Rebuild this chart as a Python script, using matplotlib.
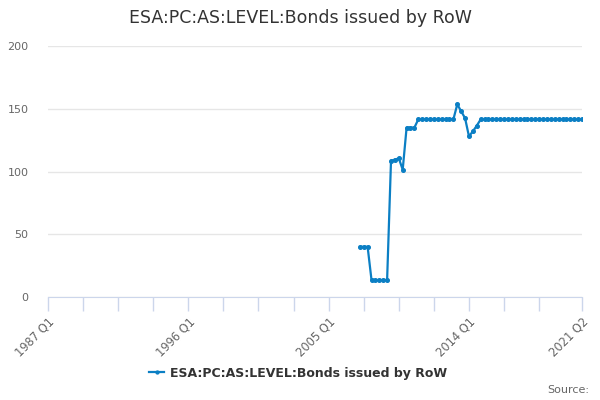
import matplotlib
matplotlib.use("Agg")
import matplotlib.pyplot as plt
import numpy as np

# Category axis: quarters 1987 Q1 .. 2021 Q2
years = list(range(1987, 2022))
quarters = [f"{y} Q{q}" for y in years for q in range(1, 5)]
quarters = quarters[:quarters.index("2021 Q2") + 1]

series_name = "ESA:PC:AS:LEVEL:Bonds issued by RoW"
first_quarter = "2007 Q1"
values = [40, 40, 40,
          13.5, 13.5, 13.5, 13.5, 13.5,
          108.5, 109.5, 110.5, 101.5,
          135, 135, 135,
          141.5, 141.5, 141.5, 141.5, 141.5, 141.5, 141.5, 141.5, 141.5, 141.5,
          153.5, 148, 142.5, 128, 132, 136.5,
          141.5, 141.5, 141.5, 141.5, 141.5, 141.5, 141.5, 141.5, 141.5,
          141.5, 141.5, 141.5, 141.5, 141.5, 141.5, 141.5, 141.5, 141.5,
          141.5, 141.5, 141.5, 141.5, 141.5, 141.5, 141.5, 141.5, 141.5]
label_quarters = ["1987 Q1", "1996 Q1", "2005 Q1", "2014 Q1", "2021 Q2"]
y_ticks = [0, 50, 100, 150, 200]

color = "#0b7fc4"
axis_col = "#ccd6eb"
grid_col = "#e6e6e6"
text_col = "#666666"

fig = plt.figure(figsize=(6, 4), dpi=100)
ax = fig.add_axes([48 / 600, 1 - 297 / 400, (582 - 48) / 600, (297 - 46) / 400])

start = quarters.index(first_quarter)
xs = np.arange(start, start + len(values))
ax.plot(xs, values, color=color, lw=1.6, marker="o", ms=2.6, mec=color, mfc=color,
        label=series_name, zorder=3)

n = len(quarters)
ax.set_xlim(0, n - 1)
ax.set_ylim(0, 200)
ax.set_yticks(y_ticks)
ax.set_yticklabels([str(v) for v in y_ticks], color=text_col, fontsize=8)
ax.grid(axis="y", color=grid_col, lw=1)
ax.set_axisbelow(True)

tick_pos = list(range(0, n - 1, 9))
if (n - 1 - tick_pos[-1]) < 5:
    tick_pos = tick_pos[:-1]
tick_pos = tick_pos + [n - 1]
label_idx = {quarters.index(q): q for q in label_quarters}
ax.set_xticks(tick_pos)
ax.set_xticklabels([label_idx.get(p, "") for p in tick_pos], rotation=45, ha="right",
                   rotation_mode="anchor", color=text_col, fontsize=8.3)
ax.tick_params(axis="x", length=10, color=axis_col, width=1, pad=3)
ax.tick_params(axis="y", length=0, pad=14)
for s in ["top", "right", "left"]:
    ax.spines[s].set_visible(False)
ax.spines["bottom"].set_color(axis_col)

fig.text(0.5, 1 - 18 / 400, series_name, ha="center", va="center", fontsize=12.5, color="#333333")
leg = fig.legend(loc="center", bbox_to_anchor=(0.497, 1 - 373 / 400), frameon=False,
                 prop={"weight": "bold", "size": 9}, handlelength=1.2, handletextpad=0.5,
                 markerscale=0.8)
for t in leg.get_texts():
    t.set_color("#333333")
fig.text(589 / 600, 1 - 390 / 400, "Source:", ha="right", va="center", fontsize=8, color=text_col)

fig.savefig("out.png", dpi=100)
